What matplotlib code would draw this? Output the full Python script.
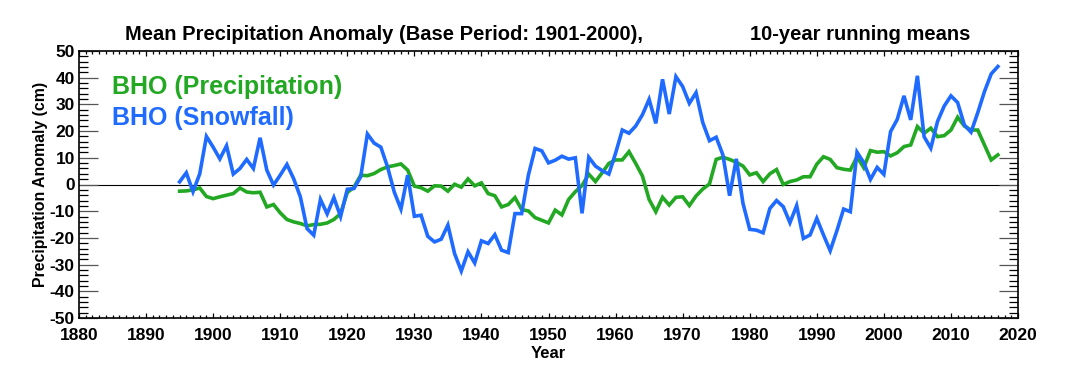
import matplotlib.pyplot as plt
import numpy as np

plt.rcParams['font.family'] = ['Liberation Sans', 'DejaVu Sans']
plt.rcParams['font.weight'] = 'bold'
plt.rcParams['axes.unicode_minus'] = False

## Data ##

years = np.arange(1895, 2018)

snowfall = [
    1.0, 4.4, -2.7, 4.0, 18.0,                                    # 1895-1899
    14.0, 9.6, 14.5, 3.9, 6.0, 9.4, 6.0, 17.5, 5.4, -0.2,         # 1900s
    3.5, 7.5, 2.2, -4.6, -16.5, -19.0, -5.6, -11.0, -4.9, -12.0,  # 1910s
    -1.8, -1.5, 2.9, 18.9, 15.5, 14.0, 6.6, -2.8, -9.2, 3.5,      # 1920s
    -11.9, -11.5, -19.4, -21.5, -20.5, -15.2, -25.9, -32.4, -25.2, -29.4,  # 1930s
    -21.1, -22.1, -18.8, -24.6, -25.5, -10.9, -10.9, 3.5, 13.5, 12.6,      # 1940s
    8.1, 9.1, 10.6, 9.5, 10.0, -10.8, 10.2, 6.9, 5.2, 3.9,        # 1950s
    11.7, 20.4, 19.2, 21.9, 26.1, 31.9, 22.9, 39.4, 26.4, 40.4,   # 1960s
    36.7, 30.4, 34.4, 23.2, 16.4, 17.7, 11.1, -4.2, 9.6, -7.1,    # 1970s
    -16.8, -17.1, -18.1, -9.0, -6.0, -8.3, -14.3, -7.9, -20.2, -18.9,  # 1980s
    -12.7, -18.9, -24.8, -17.3, -9.2, -10.2, 12.1, 8.2, 1.9, 6.4,      # 1990s
    3.8, 19.8, 24.4, 33.2, 24.2, 40.7, 17.9, 13.6, 23.6, 29.4,    # 2000s
    33.2, 30.7, 22.3, 19.6, 26.9, 34.8, 41.4, 44.2,               # 2010-2017
]

precip = [
    -2.5, -2.4, -2.0, -1.3, -4.5,                                 # 1895-1899
    -5.3, -4.6, -4.0, -3.4, -1.3, -2.8, -3.1, -2.9, -8.4, -7.5,   # 1900s
    -10.6, -13.1, -14.0, -14.6, -15.5, -15.0, -14.9, -14.4, -13.1, -10.9,  # 1910s
    -3.0, -1.0, 3.5, 3.3, 4.1, 5.6, 6.6, 7.1, 7.7, 5.4,           # 1920s
    -0.6, -1.2, -2.5, -0.5, -0.6, -2.5, 0.1, -1.0, 2.1, -0.5,     # 1930s
    0.6, -3.4, -4.2, -8.4, -7.5, -4.9, -9.4, -9.9, -12.4, -13.4,  # 1940s
    -14.4, -9.6, -11.4, -5.6, -2.7, -0.4, 3.9, 1.1, 4.4, 7.9,     # 1950s
    9.2, 9.2, 12.3, 7.9, 3.2, -5.6, -10.2, -4.8, -7.7, -4.8,      # 1960s
    -4.6, -7.9, -4.3, -1.7, 0.2, 9.4, 10.2, 9.4, 8.3, 6.9,        # 1970s
    3.6, 4.4, 1.1, 4.0, 5.6, 0.0, 1.1, 1.7, 2.9, 2.9,             # 1980s
    7.6, 10.4, 9.4, 6.3, 5.7, 5.4, 10.4, 6.3, 12.7, 12.1,         # 1990s
    12.3, 10.7, 11.9, 14.2, 14.8, 21.7, 19.2, 21.1, 17.9, 18.3,   # 2000s
    20.4, 25.2, 21.9, 20.4, 20.4, 14.8, 9.2, 11.1,                # 2010-2017
]

xticks = np.arange(1880, 2021, 10)
yticks = np.arange(-50, 51, 10)

green = '#22a822'
blue = '#1f6bff'

## Plotting ##

fig = plt.figure(figsize=(10.66, 3.86), dpi=100)
ax = plt.axes((79/1066, 1 - 318/386, 939/1066, 267/386))

ax.axhline(0, color='black', lw=0.8, zorder=1)
ax.plot(years, precip, color=green, lw=2.6, solid_joinstyle='miter', zorder=2)
ax.plot(years, snowfall, color=blue, lw=2.6, solid_joinstyle='miter', zorder=3)

ax.set_xlim(1880, 2020)
ax.set_ylim(-50, 50)
ax.set_xticks(xticks)
ax.set_yticks(yticks)
ax.set_xticks(np.arange(1880, 2021, 1), minor=True)
ax.set_yticks(np.arange(-50, 51, 2), minor=True)

for s in ax.spines.values():
    s.set_linewidth(1.2)

ax.tick_params(which='both', direction='in', top=True, right=True,
               labelsize=12.5, width=0.9, colors='black', pad=7)
ax.xaxis.set_tick_params(which='major', length=3.8)
ax.xaxis.set_tick_params(which='minor', length=1.9)
ax.yaxis.set_tick_params(which='major', length=13.5, color='#555555')
ax.yaxis.set_tick_params(which='minor', length=6.8)
ax.tick_params(axis='y', pad=3)

for lab in ax.get_xticklabels() + ax.get_yticklabels():
    lab.set_fontweight('bold')

ax.set_xlabel('Year', fontsize=12, fontweight='bold', labelpad=2)
ax.set_ylabel('Precipitation Anomaly (cm)', fontsize=11.4, fontweight='bold', labelpad=1)

fig.text(125/1066, 1 - 35/386, 'Mean Precipitation Anomaly (Base Period: 1901-2000),',
         fontsize=14.5, fontweight='bold', va='center', ha='left')
fig.text(970/1066, 1 - 35/386, '10-year running means',
         fontsize=14.5, fontweight='bold', va='center', ha='right')

ax.text(112/1066, 1 - 87/386, 'BHO (Precipitation)', transform=fig.transFigure,
        color=green, fontsize=18, fontweight='bold', va='center', ha='left')
ax.text(112/1066, 1 - 118/386, 'BHO (Snowfall)', transform=fig.transFigure,
        color=blue, fontsize=18, fontweight='bold', va='center', ha='left')

fig.savefig('out.png', dpi=100)
